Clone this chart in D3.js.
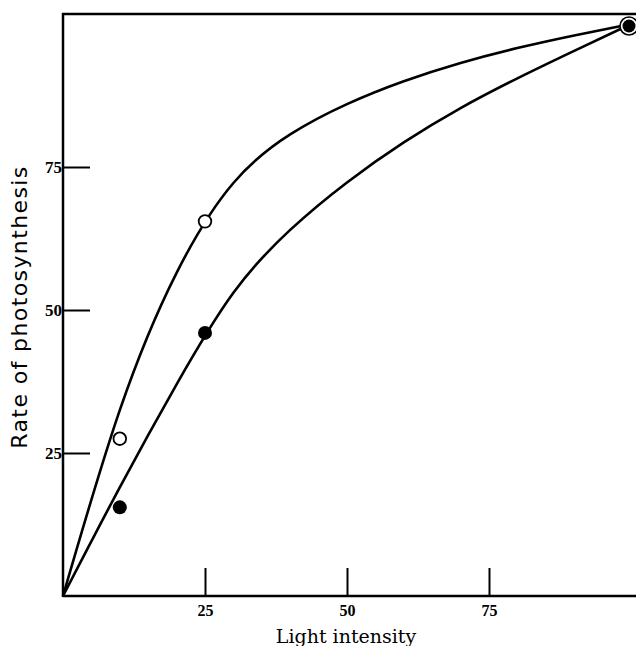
<!DOCTYPE html>
<html><head><meta charset="utf-8">
<script src="https://cdn.jsdelivr.net/npm/d3@7"></script>
<style>body{margin:0;background:#fff}</style>
</head><body>
<script>
// Data
const xTicks = [25, 50, 75];
const yTicks = [25, 50, 75];
const curveX = [0, 10, 20, 30, 40, 50, 60, 70, 80, 90, 100];
const upperCurveY = [0, 32.5, 56.5, 72.2, 80.7, 86, 90, 93.2, 95.8, 98, 100];
const lowerCurveY = [0, 19, 37, 53, 64, 72.3, 79.3, 85.3, 90.5, 95.3, 100];
const openX = [10, 25];
const openY = [27.5, 65.5];
const filledX = [10, 25];
const filledY = [15.5, 46];
const bothX = [100];
const bothY = [100];

const W = 636, H = 646;
const svg = d3.select("body").append("svg").attr("width", W).attr("height", H);
const x = d3.scaleLinear().domain([0, 100]).range([63, 631]);
const y = d3.scaleLinear().domain([0, 100]).range([596, 24]);
const font = "'DejaVu Serif', 'Liberation Serif', serif";

// frame
svg.append("line").attr("x1", 63).attr("x2", 636).attr("y1", 596).attr("y2", 596).attr("stroke", "#000").attr("stroke-width", 2.5);
svg.append("line").attr("x1", 63).attr("x2", 63).attr("y1", 13).attr("y2", 597).attr("stroke", "#000").attr("stroke-width", 2.5);
svg.append("line").attr("x1", 62).attr("x2", 636).attr("y1", 14).attr("y2", 14).attr("stroke", "#000").attr("stroke-width", 2.5);

// axes (ticks inward)
const xAxis = d3.axisBottom(x).tickValues(xTicks).tickSize(-28).tickFormat(d3.format("d"));
const gx = svg.append("g").attr("transform", "translate(0,596)").call(xAxis);
gx.select(".domain").remove();
gx.selectAll(".tick line").attr("stroke", "#000").attr("stroke-width", 2);
gx.selectAll(".tick text").attr("font-family", "'Liberation Serif', serif").attr("font-weight", "bold")
  .attr("font-size", 16).attr("fill", "#000").attr("y", 9).attr("dy", "0.71em");

const yAxis = d3.axisLeft(y).tickValues(yTicks).tickSize(-27).tickFormat(d3.format("d"));
const gy = svg.append("g").attr("transform", "translate(63,0)").call(yAxis);
gy.select(".domain").remove();
gy.selectAll(".tick line").attr("stroke", "#000").attr("stroke-width", 2);
gy.selectAll(".tick text").attr("font-family", "'Liberation Serif', serif").attr("font-weight", "bold")
  .attr("font-size", 17).attr("fill", "#000").attr("x", -1);

// curves
const line = d3.line().x(d => x(d[0])).y(d => y(d[1])).curve(d3.curveNatural);
svg.append("path").datum(d3.zip(curveX, upperCurveY)).attr("d", line)
  .attr("fill", "none").attr("stroke", "#000").attr("stroke-width", 2.6);
svg.append("path").datum(d3.zip(curveX, lowerCurveY)).attr("d", line)
  .attr("fill", "none").attr("stroke", "#000").attr("stroke-width", 2.6);

// points
svg.selectAll(".open").data(d3.zip(openX, openY)).join("circle")
  .attr("cx", d => x(d[0])).attr("cy", d => y(d[1])).attr("r", 6.3)
  .attr("fill", "#fff").attr("stroke", "#000").attr("stroke-width", 1.8);
svg.selectAll(".filled").data(d3.zip(filledX, filledY)).join("circle")
  .attr("cx", d => x(d[0])).attr("cy", d => y(d[1])).attr("r", 7)
  .attr("fill", "#000");
const both = svg.selectAll(".both").data(d3.zip(bothX, bothY)).join("g")
  .attr("transform", d => `translate(${x(d[0]) - 2},${y(d[1]) + 2})`);
both.append("circle").attr("r", 9).attr("fill", "#fff").attr("stroke", "#000").attr("stroke-width", 1.6);
both.append("circle").attr("r", 6.5).attr("fill", "#000");

// axis titles
svg.append("text").attr("x", 346).attr("y", 643).attr("text-anchor", "middle")
  .attr("font-family", font).attr("font-size", 19).attr("fill", "#000").text("Light intensity");
svg.append("text").attr("transform", "translate(27,307) rotate(-90)").attr("text-anchor", "middle")
  .attr("font-family", "'DejaVu Sans', sans-serif").attr("font-size", 22).attr("letter-spacing", 1.4)
  .attr("fill", "#000").text("Rate of photosynthesis");
</script>
</body></html>
